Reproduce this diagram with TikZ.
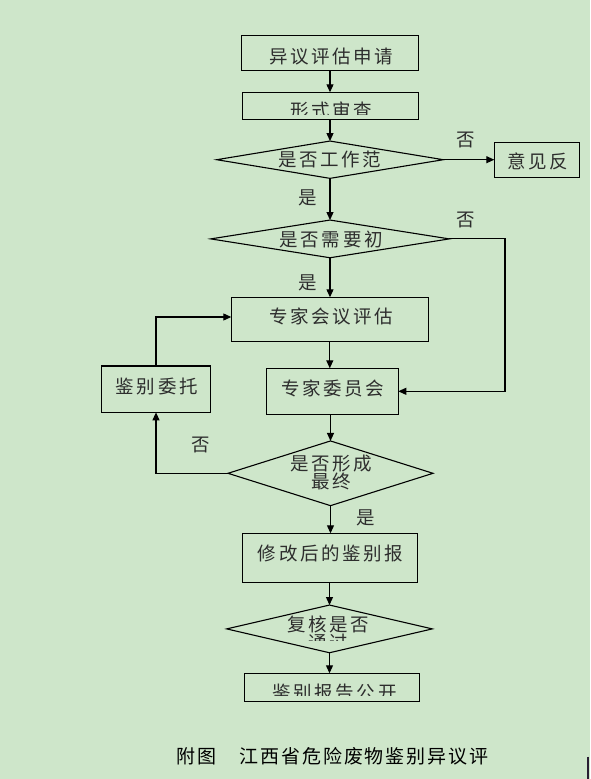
\documentclass[tikz,border=0pt]{standalone}
\usepackage{fontspec}
\newfontfamily\cjk[LetterSpace=14]{Noto Sans CJK SC}
\newfontfamily\cjkcap[LetterSpace=10]{Noto Sans CJK SC}
\usetikzlibrary{shapes.geometric,arrows.meta}
\definecolor{bgc}{RGB}{206,230,202}
\definecolor{txc}{RGB}{45,45,45}
\definecolor{barc}{RGB}{40,30,50}
\begin{document}
\begin{tikzpicture}[x=1pt,y=-1pt,
 box/.style={draw,line width=1.2pt,rectangle,inner sep=0pt,outer sep=0pt},
 dia/.style={draw,line width=1.1pt,diamond,inner sep=0pt,outer sep=0pt},
 txt/.style={inner sep=0pt,font=\cjk\fontsize{18.5}{15}\selectfont,text=txc},
 con/.style={line width=1.1pt},
 arr/.style={con,-{Triangle[length=8pt,width=7pt]}}]
\fill[bgc] (0,0) rectangle (590,779);
\useasboundingbox (0,0) rectangle (590,779);

% boxes and diamonds
\node[box,minimum width=176.4pt,minimum height=35pt] (b1) at (330,52.8) {};
\node[box,minimum width=176pt,minimum height=27pt] (b2) at (330.3,105.8) {};
\node[dia,minimum width=226.6pt,minimum height=37.3pt] (d1) at (330,159.7) {};
\node[box,minimum width=85pt,minimum height=35pt] (b4) at (536.8,159.8) {};
\node[dia,minimum width=238.6pt,minimum height=37.7pt] (d2) at (330,238.9) {};
\node[box,minimum width=197pt,minimum height=44pt] (b6) at (329.8,319.3) {};
\node[box,minimum width=108.6pt,minimum height=46.3pt] (b7) at (156,389.2) {};
\node[box,minimum width=132pt,minimum height=46pt] (b8) at (332.3,391.3) {};
\node[dia,minimum width=205pt,minimum height=64.7pt] (d3) at (330.5,473.3) {};
\node[box,minimum width=175.4pt,minimum height=49pt] (b10) at (330,557.8) {};
\node[dia,minimum width=205.6pt,minimum height=47.7pt] (d4) at (329.5,628.9) {};
\node[box,minimum width=175.4pt,minimum height=28.4pt] (b12) at (332,687.5) {};

% texts
\node[txt] (t1) at (331.2,56.5) {异议评估申请};
\begin{scope}
\clip (243,93) rectangle (417,114.3);
\node[txt] (t2) at (331.6,110.2) {形式审查};
\end{scope}
\node[txt] (t3) at (329.8,159.2) {是否工作范};
\node[txt] (t4) at (538,161.7) {意见反};
\node[txt] (t5) at (331.2,239) {是否需要初};
\node[txt] (t6) at (331,316.7) {专家会议评估};
\node[txt] (t7) at (156.8,386.7) {鉴别委托};
\node[txt] (t8) at (332.6,388.3) {专家委员会};
\node[txt,align=center] (t9) at (331.3,472.5) {是否形成\\最终};
\node[txt] (t10) at (330.5,553.3) {修改后的鉴别报};
\begin{scope}
\clip (270,600) rectangle (390,640);
\node[txt,align=center,font=\cjk\fontsize{18.5}{16.5}\selectfont] (t11) at (328,633.3) {复核是否\\通过};
\end{scope}
\begin{scope}
\clip (245,674) rectangle (419,695.7);
\node[txt] (t12) at (334.6,692.8) {鉴别报告公开};
\end{scope}

% branch labels
\node[txt] (l1) at (466,140) {否};
\node[txt] (l2) at (308,198) {是};
\node[txt] (l3) at (466,220) {否};
\node[txt] (l4) at (308,283) {是};
\node[txt] (l5) at (201,445) {否};
\node[txt] (l6) at (366,518.3) {是};

% connectors
\coordinate (c1) at (505,238.9);
\coordinate (c2) at (156,317);
\draw[arr] (b1.south) -- (b1.south |- b2.north);
\draw[arr] (b2.south -| d1.north) -- (d1.north);
\draw[arr] (d1.east) -- (d1.east -| b4.west);
\draw[arr] (d1.south) -- (d2.north);
\draw[arr] (d2.east) -- (c1) |- (b8.east);
\draw[arr] (d2.south) -- (d2.south |- b6.north);
\draw[arr] (b6.south) -- (b6.south |- b8.north);
\draw[arr] (b7.north) -- (c2) -- (c2 -| b6.west);
\draw[arr] (d3.north |- b8.south) -- (d3.north);
\draw[arr] (d3.west) -| (b7.south);
\draw[arr] (d3.south) -- (d3.south |- b10.north);
\draw[arr] (b10.south -| d4.north) -- (d4.north);
\draw[arr] (d4.south) -- (d4.south |- b12.north);

% caption
\node[inner sep=0pt,font=\cjkcap\fontsize{19}{19}\selectfont,text=black,anchor=west] (cap) at (176.7,756) {附图　江西省危险废物鉴别异议评};
\draw[barc,line width=2.5pt] (587.8,756.7) -- (587.8,779);
\end{tikzpicture}
\end{document}
